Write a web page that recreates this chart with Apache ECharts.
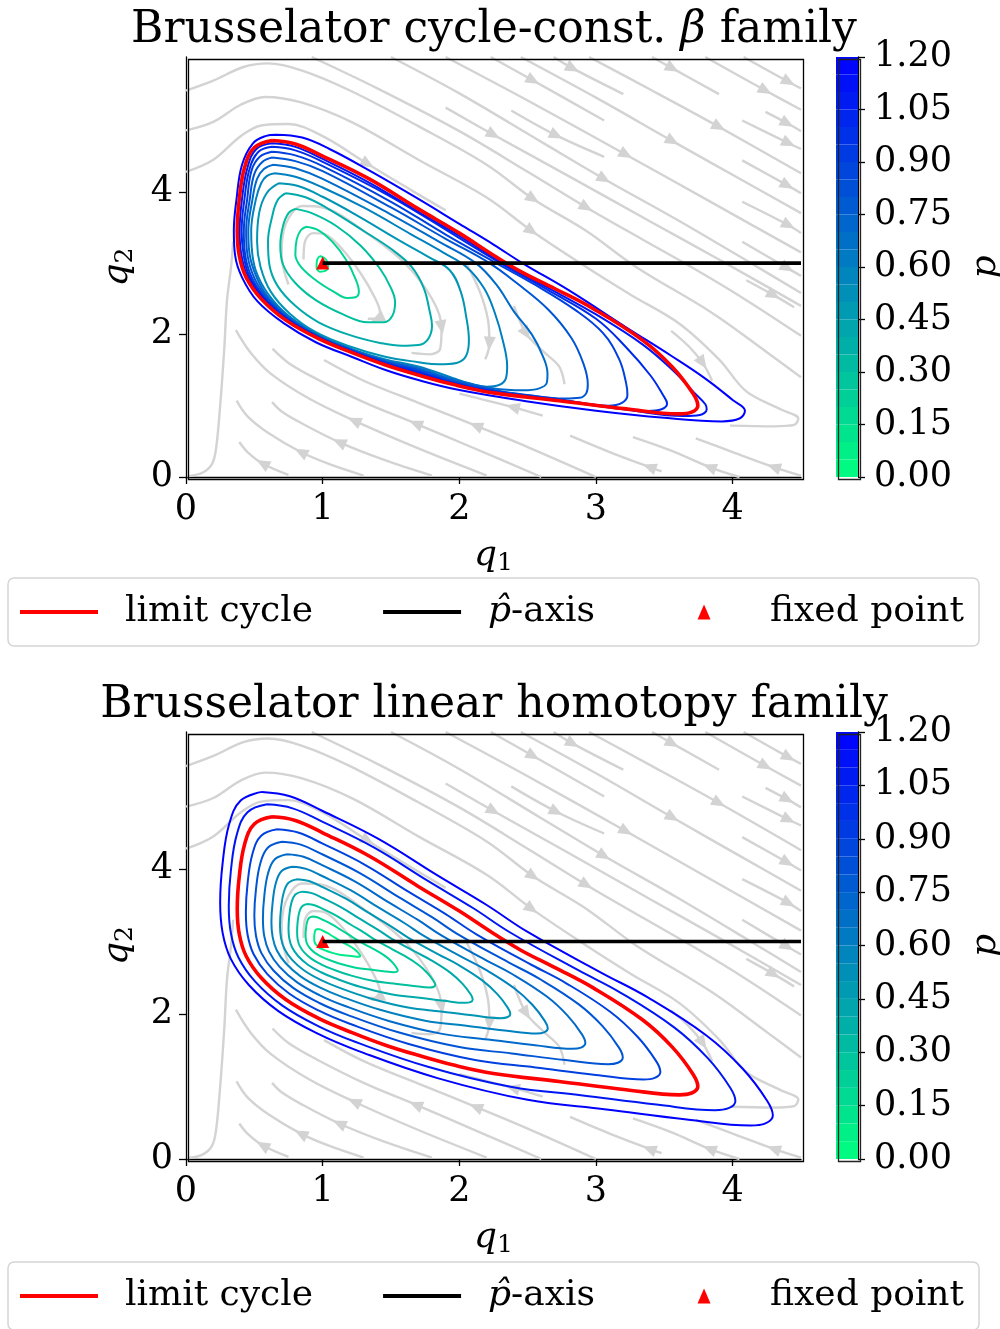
<!DOCTYPE html>
<html>
<head>
<meta charset="utf-8">
<script src="https://cdn.jsdelivr.net/npm/echarts/dist/echarts.min.js"></script>
</head>
<body style="margin:0;background:#fff">
<div id="container" style="width:1000px;height:1329px"></div>
<script>
// ---- data ----
const xTicks = [0, 1, 2, 3, 4];
const yTicks = [0, 2, 4];
const pLevels = [0.1, 0.2, 0.3, 0.4, 0.5, 0.6, 0.7, 0.8, 0.9, 1.0, 1.1, 1.2];
const cbLevels = [0, 0.05, 0.10, 0.15, 0.20, 0.25, 0.30, 0.35, 0.40, 0.45, 0.50, 0.55,
  0.60, 0.65, 0.70, 0.75, 0.80, 0.85, 0.90, 0.95, 1.00, 1.05, 1.10, 1.15];
const fixedPoint = [1, 3];
const pAxis = [[1, 3], [4.5, 3]];

const limitCycle = [[0.63,4.72],[0.80,4.67],[1.00,4.50],[1.34,4.18],[1.70,3.76],[2.00,3.42],[2.25,3.11],[2.45,2.88],[2.70,2.64],[2.98,2.36],[3.34,1.92],[3.56,1.54],[3.71,1.17],[3.745,1.00],[3.70,0.91],[3.61,0.885],[3.22,0.955],[2.73,1.07],[2.25,1.18],[1.95,1.30],[1.70,1.43],[1.46,1.57],[1.22,1.74],[0.97,1.94],[0.73,2.20],[0.55,2.50],[0.44,2.80],[0.39,3.10],[0.375,3.45],[0.39,3.90],[0.43,4.35],[0.50,4.62],[0.63,4.72]];

// cycle-const beta family, p = 0.1 ... 1.2
const betaLoops = [
  [[0.98,3.10],[1.02,3.06],[1.04,2.97],[1.02,2.89],[0.98,2.88],[0.955,2.95],[0.96,3.05],[0.98,3.10]],
  [[0.88,3.51],[0.97,3.46],[1.07,3.30],[1.17,3.05],[1.24,2.78],[1.265,2.60],[1.24,2.52],[1.18,2.51],[1.08,2.60],[0.95,2.76],[0.84,2.95],[0.80,3.12],[0.81,3.33],[0.84,3.46],[0.88,3.51]],
  [[0.80,3.76],[0.92,3.70],[1.10,3.52],[1.28,3.24],[1.42,2.92],[1.50,2.65],[1.53,2.45],[1.51,2.26],[1.45,2.17],[1.33,2.17],[1.15,2.28],[0.95,2.48],[0.80,2.72],[0.71,2.98],[0.69,3.25],[0.71,3.52],[0.75,3.70],[0.80,3.76]],
  [[0.73,3.98],[0.88,3.92],[1.05,3.75],[1.30,3.45],[1.50,3.20],[1.65,2.95],[1.74,2.65],[1.78,2.35],[1.80,2.12],[1.77,1.93],[1.70,1.85],[1.58,1.84],[1.42,1.88],[1.20,1.99],[0.97,2.17],[0.80,2.40],[0.67,2.68],[0.61,2.98],[0.60,3.30],[0.63,3.65],[0.67,3.88],[0.73,3.98]],
  [[0.68,4.12],[0.82,4.08],[1.00,3.93],[1.25,3.67],[1.55,3.33],[1.78,3.08],[1.93,2.90],[2.01,2.60],[2.05,2.25],[2.07,1.92],[2.05,1.70],[1.98,1.60],[1.85,1.58],[1.70,1.61],[1.45,1.69],[1.20,1.83],[0.95,2.03],[0.76,2.29],[0.62,2.60],[0.545,2.95],[0.52,3.30],[0.535,3.70],[0.59,3.98],[0.68,4.12]],
  [[0.65,4.26],[0.80,4.21],[1.00,4.06],[1.30,3.78],[1.65,3.40],[1.88,3.15],[2.05,2.95],[2.18,2.65],[2.26,2.30],[2.32,1.90],[2.35,1.55],[2.34,1.38],[2.29,1.29],[2.20,1.265],[2.08,1.31],[1.95,1.39],[1.70,1.55],[1.46,1.65],[1.22,1.79],[0.96,2.00],[0.75,2.26],[0.60,2.57],[0.51,2.90],[0.48,3.24],[0.477,3.45],[0.512,3.90],[0.55,4.12],[0.59,4.22],[0.65,4.26]],
  [[0.64,4.38],[0.80,4.33],[1.00,4.18],[1.50,3.68],[1.85,3.30],[2.12,3.00],[2.27,2.70],[2.40,2.32],[2.53,2.00],[2.61,1.70],[2.645,1.45],[2.64,1.32],[2.58,1.24],[2.47,1.215],[2.25,1.24],[1.95,1.37],[1.70,1.527],[1.46,1.632],[1.22,1.783],[0.96,1.99],[0.75,2.25],[0.59,2.55],[0.50,2.88],[0.46,3.21],[0.456,3.45],[0.487,3.90],[0.52,4.18],[0.57,4.32],[0.64,4.38]],
  [[0.63,4.48],[0.80,4.43],[1.00,4.29],[1.50,3.78],[1.90,3.34],[2.22,3.00],[2.42,2.72],[2.65,2.35],[2.82,1.95],[2.91,1.58],[2.94,1.30],[2.93,1.18],[2.88,1.11],[2.77,1.10],[2.50,1.15],[2.25,1.22],[1.95,1.35],[1.70,1.507],[1.46,1.619],[1.22,1.774],[0.96,1.98],[0.74,2.24],[0.58,2.54],[0.485,2.86],[0.445,3.19],[0.44,3.45],[0.467,3.90],[0.50,4.25],[0.56,4.42],[0.63,4.48]],
  [[0.63,4.56],[0.80,4.51],[1.00,4.36],[1.50,3.86],[1.90,3.40],[2.27,3.00],[2.55,2.70],[2.85,2.34],[3.05,2.02],[3.17,1.65],[3.22,1.32],[3.23,1.15],[3.19,1.04],[3.09,1.00],[2.73,1.09],[2.25,1.21],[1.95,1.33],[1.70,1.488],[1.46,1.607],[1.22,1.766],[0.96,1.97],[0.74,2.23],[0.57,2.53],[0.47,2.85],[0.43,3.16],[0.423,3.45],[0.448,3.90],[0.48,4.30],[0.54,4.49],[0.63,4.56]],
  [[0.63,4.63],[0.80,4.58],[1.00,4.42],[1.50,3.93],[2.00,3.35],[2.30,3.00],[2.65,2.62],[3.00,2.22],[3.22,1.82],[3.40,1.42],[3.49,1.15],[3.52,1.03],[3.48,0.95],[3.38,0.925],[3.10,0.985],[2.73,1.08],[2.25,1.20],[1.95,1.32],[1.70,1.468],[1.46,1.594],[1.22,1.757],[0.97,1.96],[0.74,2.22],[0.565,2.52],[0.46,2.83],[0.42,3.14],[0.407,3.45],[0.428,3.90],[0.465,4.32],[0.53,4.56],[0.63,4.63]],
  [[0.63,4.68],[0.80,4.63],[1.00,4.46],[1.34,4.13],[1.70,3.72],[2.00,3.38],[2.32,3.00],[2.70,2.60],[3.00,2.28],[3.34,1.86],[3.56,1.50],[3.72,1.18],[3.80,1.02],[3.81,0.95],[3.76,0.87],[3.64,0.855],[3.22,0.945],[2.73,1.07],[2.25,1.185],[1.95,1.31],[1.70,1.45],[1.46,1.583],[1.22,1.749],[0.97,1.95],[0.73,2.21],[0.56,2.51],[0.45,2.82],[0.405,3.12],[0.392,3.45],[0.41,3.90],[0.45,4.34],[0.515,4.60],[0.63,4.68]],
  [[0.66,4.80],[0.85,4.76],[1.05,4.60],[1.34,4.30],[1.70,3.90],[2.00,3.55],[2.25,3.26],[2.47,2.99],[2.80,2.62],[3.22,2.10],[3.55,1.70],[3.80,1.38],[4.00,1.08],[4.09,0.93],[4.05,0.82],[3.92,0.78],[3.50,0.83],[3.00,0.93],[2.50,1.06],[2.00,1.22],[1.70,1.36],[1.46,1.50],[1.22,1.68],[0.95,1.89],[0.72,2.15],[0.52,2.47],[0.41,2.80],[0.36,3.10],[0.35,3.45],[0.37,3.90],[0.41,4.38],[0.49,4.68],[0.58,4.78],[0.66,4.80]]
];

// linear homotopy family, p = 0.1 ... 1.2
const homotopyLoops = [
  [[0.963,3.172],[0.98,3.167],[1.000,3.150],[1.034,3.118],[1.070,3.076],[1.100,3.042],[1.125,3.011],[1.170,2.964],[1.198,2.936],[1.234,2.892],[1.256,2.854],[1.271,2.817],[1.275,2.800],[1.270,2.791],[1.261,2.789],[1.222,2.796],[1.173,2.807],[1.125,2.818],[1.070,2.843],[1.022,2.874],[0.997,2.894],[0.973,2.920],[0.955,2.950],[0.944,2.980],[0.939,3.010],[0.938,3.045],[0.939,3.090],[0.943,3.135],[0.950,3.162],[0.963,3.172]],
  [[0.926,3.344],[0.96,3.334],[1.000,3.300],[1.068,3.236],[1.140,3.152],[1.200,3.084],[1.250,3.022],[1.340,2.928],[1.396,2.872],[1.468,2.784],[1.512,2.708],[1.542,2.634],[1.549,2.600],[1.540,2.582],[1.522,2.577],[1.444,2.591],[1.346,2.614],[1.250,2.636],[1.140,2.686],[1.044,2.748],[0.994,2.788],[0.946,2.840],[0.910,2.900],[0.888,2.960],[0.878,3.020],[0.875,3.090],[0.878,3.180],[0.886,3.270],[0.900,3.324],[0.926,3.344]],
  [[0.889,3.516],[0.94,3.501],[1.000,3.450],[1.102,3.354],[1.210,3.228],[1.300,3.126],[1.375,3.033],[1.510,2.892],[1.594,2.808],[1.702,2.676],[1.768,2.562],[1.813,2.451],[1.824,2.400],[1.810,2.373],[1.783,2.366],[1.666,2.387],[1.519,2.421],[1.375,2.454],[1.210,2.529],[1.066,2.622],[0.991,2.682],[0.919,2.760],[0.865,2.850],[0.832,2.940],[0.817,3.030],[0.813,3.135],[0.817,3.270],[0.829,3.405],[0.850,3.486],[0.889,3.516]],
  [[0.852,3.688],[0.92,3.668],[1.000,3.600],[1.136,3.472],[1.280,3.304],[1.400,3.168],[1.500,3.044],[1.680,2.856],[1.792,2.744],[1.936,2.568],[2.024,2.416],[2.084,2.268],[2.098,2.200],[2.080,2.164],[2.044,2.154],[1.888,2.182],[1.692,2.228],[1.500,2.272],[1.280,2.372],[1.088,2.496],[0.988,2.576],[0.892,2.680],[0.820,2.800],[0.776,2.920],[0.756,3.040],[0.750,3.180],[0.756,3.360],[0.772,3.540],[0.800,3.648],[0.852,3.688]],
  [[0.815,3.860],[0.90,3.835],[1.000,3.750],[1.170,3.590],[1.350,3.380],[1.500,3.210],[1.625,3.055],[1.850,2.820],[1.990,2.680],[2.170,2.460],[2.280,2.270],[2.355,2.085],[2.373,2.000],[2.350,1.955],[2.305,1.943],[2.110,1.978],[1.865,2.035],[1.625,2.090],[1.350,2.215],[1.110,2.370],[0.985,2.470],[0.865,2.600],[0.775,2.750],[0.720,2.900],[0.695,3.050],[0.688,3.225],[0.695,3.450],[0.715,3.675],[0.750,3.810],[0.815,3.860]],
  [[0.778,4.032],[0.88,4.002],[1.000,3.900],[1.204,3.708],[1.420,3.456],[1.600,3.252],[1.750,3.066],[2.020,2.784],[2.188,2.616],[2.404,2.352],[2.536,2.124],[2.626,1.902],[2.647,1.800],[2.620,1.746],[2.566,1.731],[2.332,1.773],[2.038,1.842],[1.750,1.908],[1.420,2.058],[1.132,2.244],[0.982,2.364],[0.838,2.520],[0.730,2.700],[0.664,2.880],[0.634,3.060],[0.625,3.270],[0.634,3.540],[0.658,3.810],[0.700,3.972],[0.778,4.032]],
  [[0.741,4.204],[0.86,4.169],[1.000,4.050],[1.238,3.826],[1.490,3.532],[1.700,3.294],[1.875,3.077],[2.190,2.748],[2.386,2.552],[2.638,2.244],[2.792,1.978],[2.897,1.719],[2.922,1.600],[2.890,1.537],[2.827,1.520],[2.554,1.569],[2.211,1.649],[1.875,1.726],[1.490,1.901],[1.154,2.118],[0.979,2.258],[0.811,2.440],[0.685,2.650],[0.608,2.860],[0.573,3.070],[0.563,3.315],[0.573,3.630],[0.601,3.945],[0.650,4.134],[0.741,4.204]],
  [[0.704,4.376],[0.84,4.336],[1.000,4.200],[1.272,3.944],[1.560,3.608],[1.800,3.336],[2.000,3.088],[2.360,2.712],[2.584,2.488],[2.872,2.136],[3.048,1.832],[3.168,1.536],[3.196,1.400],[3.160,1.328],[3.088,1.308],[2.776,1.364],[2.384,1.456],[2.000,1.544],[1.560,1.744],[1.176,1.992],[0.976,2.152],[0.784,2.360],[0.640,2.600],[0.552,2.840],[0.512,3.080],[0.500,3.360],[0.512,3.720],[0.544,4.080],[0.600,4.296],[0.704,4.376]],
  [[0.667,4.548],[0.82,4.503],[1.000,4.350],[1.306,4.062],[1.630,3.684],[1.900,3.378],[2.125,3.099],[2.530,2.676],[2.782,2.424],[3.106,2.028],[3.304,1.686],[3.439,1.353],[3.471,1.200],[3.430,1.119],[3.349,1.097],[2.998,1.160],[2.557,1.263],[2.125,1.362],[1.630,1.587],[1.198,1.866],[0.973,2.046],[0.757,2.280],[0.595,2.550],[0.496,2.820],[0.451,3.090],[0.438,3.405],[0.451,3.810],[0.487,4.215],[0.550,4.458],[0.667,4.548]],
  limitCycle,
  [[0.593,4.892],[0.78,4.837],[1.000,4.650],[1.374,4.298],[1.770,3.836],[2.100,3.462],[2.375,3.121],[2.870,2.604],[3.178,2.296],[3.574,1.812],[3.816,1.394],[3.981,0.987],[4.020,0.800],[3.970,0.701],[3.871,0.674],[3.442,0.751],[2.903,0.877],[2.375,0.998],[1.770,1.273],[1.242,1.614],[0.967,1.834],[0.703,2.120],[0.505,2.450],[0.384,2.780],[0.329,3.110],[0.313,3.495],[0.329,3.990],[0.373,4.485],[0.450,4.782],[0.593,4.892]],
  [[0.556,5.064],[0.76,5.004],[1.000,4.800],[1.408,4.416],[1.840,3.912],[2.200,3.504],[2.500,3.132],[3.040,2.568],[3.376,2.232],[3.808,1.704],[4.072,1.248],[4.252,0.804],[4.294,0.600],[4.240,0.492],[4.132,0.462],[3.664,0.546],[3.076,0.684],[2.500,0.816],[1.840,1.116],[1.264,1.488],[0.964,1.728],[0.676,2.040],[0.460,2.400],[0.328,2.760],[0.268,3.120],[0.250,3.540],[0.268,4.080],[0.316,4.620],[0.400,4.944],[0.556,5.064]]
];

// streamlines of the vector field (same in both panels), points in flow order
const streamlines = [
  [[0.01,0.01],[0.12,0.06],[0.19,0.18],[0.22,0.40],[0.25,1.0],[0.28,1.8],[0.30,2.48],[0.33,2.95],[0.345,3.3]],
  [[0,5.42],[0.2,5.56],[0.42,5.75],[0.6,5.80],[0.85,5.70],[1.2,5.42],[1.7,4.92],[2.2,4.38],[2.54,3.90],[2.93,3.45],[3.29,2.95],[3.85,2.30],[4.25,1.75],[4.5,1.40]],
  [[0,4.86],[0.2,4.98],[0.4,5.22],[0.58,5.33],[0.85,5.25],[1.22,4.97],[1.7,4.45],[2.2,3.92],[2.53,3.45],[2.90,2.98],[3.25,2.56],[3.61,2.15],[3.90,1.65],[4.10,1.20],[4.35,0.95],[4.48,0.82],[4.45,0.73],[4.30,0.71],[3.98,0.72]],
  [[0,4.28],[0.2,4.45],[0.4,4.78],[0.55,4.93],[0.75,4.95],[1.0,4.78],[1.33,4.39],[1.65,4.02],[1.9,3.74]],
  [[0.92,5.89],[1.4,5.45],[2.0,4.85],[2.5,4.28],[2.93,3.78],[3.35,3.32],[3.71,2.93],[4.1,2.48],[4.5,1.98]],
  [[1.9,5.18],[2.25,4.80],[2.8,4.22],[3.4,3.58],[3.9,3.05],[4.5,2.40]],
  [[1.5,5.89],[2.0,5.38],[2.6,4.70],[3.06,4.18],[3.6,3.60],[4.15,2.98],[4.5,2.58]],
  [[2.38,5.14],[2.71,4.79],[3.06,4.49]],
  [[1.9,5.89],[2.5,5.28],[3.22,4.52],[3.8,3.90],[4.5,3.15]],
  [[2.23,5.89],[2.54,5.56],[3.06,5.0]],
  [[2.45,5.89],[3.0,5.32],[3.56,4.71],[4.1,4.13],[4.5,3.70]],
  [[2.69,5.89],[2.83,5.73],[3.20,5.37]],
  [[2.95,5.89],[3.4,5.43],[3.90,4.91],[4.5,4.26]],
  [[3.41,5.89],[3.56,5.73],[3.90,5.37]],
  [[3.8,5.89],[4.24,5.42],[4.5,5.15]],
  [[4.08,5.89],[4.41,5.54],[4.5,5.45]],
  [[4.24,5.12],[4.40,4.96],[4.5,4.85]],
  [[4.07,5.0],[4.41,4.68],[4.5,4.6]],
  [[4.07,4.44],[4.40,4.09],[4.5,3.98]],
  [[4.07,3.86],[4.41,3.53],[4.5,3.42]],
  [[4.07,3.30],[4.40,2.93],[4.5,2.82]],
  [[4.10,2.76],[4.30,2.55],[4.45,2.38]],
  [[0.75,0.03],[0.56,0.19],[0.45,0.35],[0.39,0.49]],
  [[1.3,0.02],[1.05,0.18],[0.84,0.35],[0.6,0.62],[0.45,0.85],[0.37,1.07]],
  [[1.8,0.02],[1.45,0.24],[1.12,0.49],[0.85,0.75],[0.70,0.92],[0.63,1.05]],
  [[2.2,0.02],[1.7,0.40],[1.23,0.79],[0.9,1.10],[0.62,1.45],[0.47,1.75],[0.365,2.06]],
  [[2.6,0.0],[2.1,0.41],[1.68,0.75],[1.3,1.05],[0.95,1.38],[0.75,1.60],[0.633,1.80]],
  [[3.0,0.0],[2.5,0.42],[2.12,0.72],[1.7,1.04],[1.3,1.35],[1.01,1.64]],
  [[3.48,0.08],[3.39,0.14],[3.1,0.35],[2.81,0.58]],
  [[2.61,0.86],[2.39,0.98],[2.0,1.17]],
  [[4.05,0.0],[3.83,0.14],[3.55,0.37],[3.27,0.56]],
  [[4.50,0.02],[4.30,0.14],[4.0,0.35],[3.73,0.54]],
  [[0.86,3.05],[0.87,3.30],[0.93,3.42],[1.02,3.40],[1.15,3.18],[1.28,2.85],[1.38,2.52],[1.42,2.30],[1.40,2.22],[1.33,2.22]],
  [[0.75,2.7],[0.70,3.1],[0.73,3.55],[0.85,3.80],[1.0,3.78],[1.3,3.45],[1.6,3.0],[1.80,2.5],[1.87,2.1],[1.86,1.80],[1.78,1.72],[1.65,1.74]],
  [[2.05,3.0],[2.15,2.6],[2.21,2.2],[2.22,1.87],[2.19,1.65]],
  [[2.40,2.4],[2.49,2.01],[2.62,1.75],[2.73,1.55],[2.77,1.30]],
  [[3.55,2.05],[3.68,1.83],[3.78,1.60],[3.85,1.35]]
];
// index of the point on each streamline that carries an arrow (-1: none)
const arrowAt = [-1, 8, 8, 6, 4, 1, 3, 1, 2, 1, 2, 1, 2, 1, 1, 1, 1, 1, 1, 1, 1, 1,
  1, 2, 2, 2, 2, 2, 1, 1, 1, 1, 8, 8, 3, 1, 2];

// ---- styling / layout ----
const FONT = 'DejaVu Serif';
const X_MAX = 4.5, Y_MAX = 5.89;
const panels = [
  {title: 'Brusselator cycle-const. {b|β} family', loops: betaLoops, top: 57, height: 420, titleTop: 4, legendTop: 578},
  {title: 'Brusselator linear homotopy family', loops: homotopyLoops, top: 732, height: 427, titleTop: 679, legendTop: 1262}
];
const PLOT_LEFT = 186, PLOT_W = 615, CB_LEFT = 836, CB_W = 22;
const LINE_ICON = 'path://M0 0H80V4H0Z';
const TRI_ICON = 'path://M0 0M78 15M39 0L45.5 15L32.5 15Z';

function winterR(v) {
  const t = v / 1.2;
  return 'rgb(0,' + Math.round(255 * (1 - t)) + ',' + Math.round(255 * (0.5 + 0.5 * t)) + ')';
}

const tickFont = {fontFamily: FONT, fontSize: 35, color: '#000'};
const black = {color: '#000', width: 1.3};
function subName(letter, idx) { return '{q|' + letter + '}{s|' + idx + '}'; }
const nameStyle = {
  fontFamily: FONT, fontSize: 36, color: '#000',
  rich: {
    q: {fontFamily: FONT, fontStyle: 'italic', fontSize: 36, color: '#000'},
    s: {fontFamily: FONT, fontSize: 25, color: '#000', padding: [16, 0, 0, 0]}
  }
};

const option = {
  animation: false,
  backgroundColor: '#fff',
  title: [], legend: [], grid: [], xAxis: [], yAxis: [], series: [], graphic: []
};

panels.forEach(function (pn, k) {
  const gMain = 2 * k, gCb = 2 * k + 1;
  const sx = PLOT_W / X_MAX, sy = pn.height / Y_MAX;

  option.title.push({
    text: pn.title, left: 489, top: pn.titleTop, textAlign: 'center',
    textStyle: {fontFamily: FONT, fontSize: 44, fontWeight: 'normal', color: '#000',
      rich: {b: {fontFamily: FONT, fontStyle: 'italic', fontSize: 44, color: '#000'}}}
  });

  option.legend.push({
    top: pn.legendTop, left: 8, orient: 'horizontal', selectedMode: false,
    data: [
      {name: 'limit cycle', icon: LINE_ICON},
      {name: 'p-axis', icon: LINE_ICON},
      {name: 'fixed point', icon: TRI_ICON}
    ],
    itemWidth: 78, itemHeight: 15, itemGap: 70, symbolKeepAspect: true,
    itemStyle: {borderWidth: 0, opacity: 1},
    padding: [16, 15, 16, 12],
    borderColor: '#d5d5d5', borderWidth: 1.5, borderRadius: 6, backgroundColor: '#fff',
    formatter: function (n) { return n === 'p-axis' ? '{i|p\u0302}-axis' : n; },
    textStyle: {fontFamily: FONT, fontSize: 36, color: '#000', padding: [0, 0, 0, 22],
      rich: {i: {fontFamily: FONT, fontStyle: 'italic', fontSize: 36, color: '#000'}}}
  });

  option.grid.push({left: PLOT_LEFT, top: pn.top, width: PLOT_W, height: pn.height, containLabel: false, outerBoundsMode: 'none'});
  option.grid.push({left: CB_LEFT, top: pn.top, width: CB_W, height: pn.height, containLabel: false, outerBoundsMode: 'none'});

  option.xAxis.push({
    gridIndex: gMain, type: 'value', min: 0, max: X_MAX, interval: 1,
    axisLine: {onZero: false, lineStyle: black},
    axisTick: {length: 7, lineStyle: black, customValues: xTicks},
    axisLabel: Object.assign({margin: 15, customValues: xTicks}, tickFont),
    splitLine: {show: false},
    name: subName('q', 1), nameLocation: 'middle', nameGap: 58, nameMoveOverlap: false,
    nameTextStyle: nameStyle
  });
  option.yAxis.push({
    gridIndex: gMain, type: 'value', min: 0, max: Y_MAX, interval: 2,
    axisLine: {onZero: false, lineStyle: black},
    axisTick: {length: 7, lineStyle: black, customValues: yTicks},
    axisLabel: Object.assign({margin: 13, customValues: yTicks}, tickFont),
    splitLine: {show: false},
    name: subName('q', 2), nameLocation: 'middle', nameRotate: 90, nameGap: 48, nameMoveOverlap: false,
    nameTextStyle: nameStyle
  });
  option.xAxis.push({gridIndex: gCb, type: 'category', data: ['cb'], show: false});
  option.yAxis.push({
    gridIndex: gCb, type: 'value', min: 0, max: 1.2, interval: 0.15, position: 'right',
    axisLine: {show: true, lineStyle: black},
    axisTick: {show: true, length: 7, lineStyle: black},
    axisLabel: Object.assign({margin: 16, formatter: function (v) { return v.toFixed(2); }}, tickFont),
    splitLine: {show: false},
    name: '{i|p}', nameLocation: 'middle', nameRotate: 90, nameGap: 110, nameMoveOverlap: false,
    nameTextStyle: {fontFamily: FONT, fontSize: 36, color: '#000',
      rich: {i: {fontFamily: FONT, fontStyle: 'italic', fontSize: 36, color: '#000'}}}
  });

  // frames
  option.graphic.push({type: 'rect', left: PLOT_LEFT, top: pn.top, z: 100, silent: true,
    shape: {width: PLOT_W, height: pn.height}, style: {fill: null, stroke: '#000', lineWidth: 1.3}});
  option.graphic.push({type: 'rect', left: CB_LEFT, top: pn.top, z: 100, silent: true,
    shape: {width: CB_W, height: pn.height}, style: {fill: null, stroke: '#222', lineWidth: 1.3}});

  // streamlines (one series, lines split by empty points)
  const streamData = [];
  streamlines.forEach(function (s) { s.forEach(function (p) { streamData.push(p); }); streamData.push(['-', '-']); });
  option.series.push({
    type: 'line', xAxisIndex: gMain, yAxisIndex: gMain, data: streamData, smooth: 0.35,
    showSymbol: false, connectNulls: false, silent: true, z: 1,
    lineStyle: {color: '#d3d3d3', width: 2.4}
  });
  const arrows = [];
  streamlines.forEach(function (s, i) {
    const j = arrowAt[i];
    if (j < 0) return;
    const a = s[Math.max(j - 1, 0)], b = s[Math.min(j + 1, s.length - 1)];
    const ang = Math.atan2((b[1] - a[1]) * sy, (b[0] - a[0]) * sx) * 180 / Math.PI;
    arrows.push({value: s[j], symbolRotate: ang - 90});
  });
  option.series.push({
    type: 'scatter', xAxisIndex: gMain, yAxisIndex: gMain, data: arrows, silent: true, z: 1,
    symbol: 'triangle', symbolSize: [12, 14], itemStyle: {color: '#d3d3d3', opacity: 1}
  });

  option.series.push({
    name: 'fixed point', type: 'scatter', xAxisIndex: gMain, yAxisIndex: gMain, data: [fixedPoint],
    symbol: 'triangle', symbolSize: 13, color: '#ff0000', itemStyle: {color: '#ff0000', opacity: 1}, silent: true, z: 2
  });

  pn.loops.forEach(function (loop, i) {
    option.series.push({
      type: 'line', xAxisIndex: gMain, yAxisIndex: gMain, data: loop, smooth: 0.4,
      showSymbol: false, silent: true, z: 2,
      lineStyle: {color: winterR(pLevels[i]), width: 2}
    });
  });

  option.series.push({
    name: 'limit cycle', type: 'line', xAxisIndex: gMain, yAxisIndex: gMain, data: limitCycle, smooth: 0.4,
    showSymbol: false, silent: true, z: 3, color: '#ff0000',
    lineStyle: {color: '#ff0000', width: 3.6}
  });
  option.series.push({
    name: 'p-axis', type: 'line', xAxisIndex: gMain, yAxisIndex: gMain, data: pAxis,
    showSymbol: false, silent: true, z: 4, color: '#000',
    lineStyle: {color: '#000', width: 3.6}
  });

  // colour bar bands
  cbLevels.forEach(function (lv) {
    option.series.push({
      type: 'bar', xAxisIndex: gCb, yAxisIndex: gCb, stack: 'cb' + k, data: [0.05],
      barWidth: '100%', silent: true, itemStyle: {color: winterR(lv + 0.025), borderWidth: 0}
    });
  });
});

const chart = echarts.init(document.getElementById('container'), null, {renderer: 'canvas'});
chart.setOption(option);
window.addEventListener('resize', chart.resize);
</script>
</body>
</html>
